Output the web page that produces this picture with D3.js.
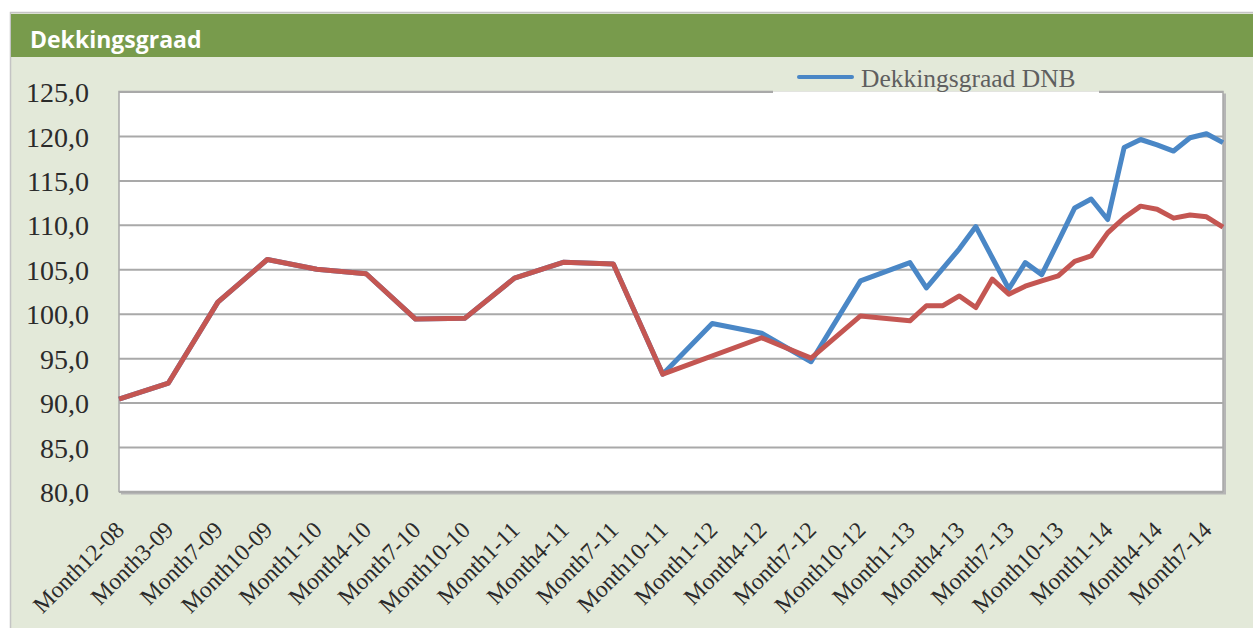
<!DOCTYPE html>
<html>
<head>
<meta charset="utf-8">
<script src="https://cdn.jsdelivr.net/npm/d3@7"></script>
<style>
  body { margin: 0; background: #fff; }
  .xlab text { font-family: "Liberation Serif", serif; font-size: 23.5px; fill: #2b2b2b; }
  .ylab text { font-family: "Liberation Serif", serif; font-size: 28px; fill: #2b2b2b; }
</style>
</head>
<body>
<div id="chart"></div>
<script>
// axis labels (category ticks)
var tickLabels = ["Month12-08","Month3-09","Month7-09","Month10-09","Month1-10","Month4-10",
  "Month7-10","Month10-10","Month1-11","Month4-11","Month7-11","Month10-11","Month1-12",
  "Month4-12","Month7-12","Month10-12","Month1-13","Month4-13","Month7-13","Month10-13",
  "Month1-14","Month4-14","Month7-14"];
var yTicks = [80, 85, 90, 95, 100, 105, 110, 115, 120, 125];

// blue series: Dekkingsgraad DNB
var dnbCats = ["Month12-08","Month3-09","Month7-09","Month10-09","Month1-10","Month4-10",
  "Month7-10","Month10-10","Month1-11","Month4-11","Month7-11","Month10-11","Month1-12",
  "Month4-12","Month7-12","Month10-12","Month1-13","Month2-13","Month3-13","Month4-13",
  "Month5-13","Month6-13","Month7-13","Month8-13","Month9-13","Month10-13","Month11-13",
  "Month12-13","Month1-14","Month2-14","Month3-14","Month4-14","Month5-14","Month6-14",
  "Month7-14","Month8-14"];
var dnbVals = [90.4, 92.2, 101.3, 106.1, 105.0, 104.5, 99.4, 99.5, 104.0, 105.8, 105.6, 93.2, 98.9,
  97.8, 94.6, 103.7, 105.75, 102.9, 105.1, 107.3, 109.8, 106.3, 102.8, 105.75, 104.4, 108.1, 111.9,
  112.9, 110.6, 118.7, 119.6, 119.0, 118.3, 119.8, 120.25, 119.25];

// red series (not in legend)
var fondsCats = ["Month12-08","Month3-09","Month7-09","Month10-09","Month1-10","Month4-10",
  "Month7-10","Month10-10","Month1-11","Month4-11","Month7-11","Month10-11",
  "Month4-12","Month7-12","Month10-12","Month1-13","Month2-13","Month3-13","Month4-13",
  "Month5-13","Month6-13","Month7-13","Month8-13","Month9-13","Month10-13","Month11-13",
  "Month12-13","Month1-14","Month2-14","Month3-14","Month4-14","Month5-14","Month6-14",
  "Month7-14","Month8-14"];
var fondsVals = [90.4, 92.2, 101.3, 106.1, 105.0, 104.5, 99.4, 99.5, 104.0, 105.8, 105.6, 93.2,
  97.3, 95.0, 99.75, 99.2, 100.9, 100.9, 102.0, 100.7, 103.9, 102.2, 103.1, 103.7, 104.25, 105.9,
  106.5, 109.1, 110.8, 112.1, 111.75, 110.75, 111.1, 110.9, 109.75];

var W = 1253, H = 628;
var plot = { left: 119, top: 91.5, right: 1223, bottom: 491.5 };

// month number from "MonthM-YY"
function monthNum(c) {
  var m = c.match(/Month(\d+)-(\d+)/);
  return (+m[2]) * 12 + (+m[1]);
}
// each tick label spans 3 slots; monthly points sit between ticks
function slot(c) {
  var i = tickLabels.indexOf(c);
  if (i >= 0) return i * 3;
  var mc = monthNum(c), best = 0;
  tickLabels.forEach(function(t, j) { if (monthNum(t) <= mc) best = j; });
  return best * 3 + (mc - monthNum(tickLabels[best]));
}

var dnb = dnbCats.map(function(c, i) { return { s: slot(c), v: dnbVals[i] }; });
var fonds = fondsCats.map(function(c, i) { return { s: slot(c), v: fondsVals[i] }; });

var svg = d3.select("#chart").append("svg")
  .attr("width", W).attr("height", H);

svg.append("rect").attr("width", W).attr("height", H).attr("fill", "#fff");

// frame + header
svg.append("rect")
  .attr("x", 10.5).attr("y", 12.5).attr("width", W).attr("height", H)
  .attr("fill", "#e3e9d9").attr("stroke", "#c4c4c4").attr("stroke-width", 1.5);
svg.append("rect")
  .attr("x", 11).attr("y", 14).attr("width", W).attr("height", 43)
  .attr("fill", "#789b4c");
svg.append("text")
  .attr("x", 30).attr("y", 48)
  .attr("font-family", "Open Sans, sans-serif").attr("font-weight", "bold")
  .attr("font-size", 23).attr("fill", "#fff")
  .text("Dekkingsgraad");

var x = d3.scaleLinear()
  .domain([0, d3.max(dnb.concat(fonds), function(d) { return d.s; })])
  .range([plot.left, plot.right]);
var y = d3.scaleLinear()
  .domain([d3.min(yTicks), d3.max(yTicks)])
  .range([plot.bottom, plot.top]);

// plot area with shadow on right/bottom
svg.append("rect")
  .attr("x", plot.left + 2).attr("y", plot.top + 2)
  .attr("width", plot.right - plot.left + 1).attr("height", plot.bottom - plot.top + 1)
  .attr("fill", "#b5b5b5");
svg.append("rect")
  .attr("x", plot.left).attr("y", plot.top)
  .attr("width", plot.right - plot.left).attr("height", plot.bottom - plot.top)
  .attr("fill", "#fff").attr("stroke", "#a8a8a8").attr("stroke-width", 1.5);

// gridlines
svg.append("g")
  .attr("transform", "translate(" + plot.left + ",0)")
  .call(d3.axisLeft(y).tickValues(yTicks).tickSize(-(plot.right - plot.left)).tickFormat(""))
  .call(function(g) {
    g.select(".domain").remove();
    g.selectAll("line").attr("stroke", "#a9a9a9").attr("stroke-width", 2);
  });

// y labels
svg.append("g")
  .attr("class", "ylab")
  .attr("transform", "translate(" + (plot.left - 27) + ",0)")
  .call(d3.axisLeft(y).tickValues(yTicks).tickSize(0)
    .tickFormat(function(d) { return d.toFixed(1).replace(".", ","); }))
  .call(function(g) {
    g.select(".domain").remove();
    g.selectAll("text").attr("font-family", null).attr("font-size", null).attr("dy", "0.36em");
  });

// x labels rotated
svg.append("g")
  .attr("class", "xlab")
  .attr("transform", "translate(0," + plot.bottom + ")")
  .call(d3.axisBottom(x).tickValues(tickLabels.map(slot)).tickSize(0)
    .tickFormat(function(d) { return tickLabels[d / 3]; }))
  .call(function(g) {
    g.select(".domain").remove();
    g.selectAll("text")
      .attr("font-family", null).attr("font-size", null)
      .attr("text-anchor", "end")
      .attr("y", 0).attr("dy", 0)
      .attr("transform", "translate(6,40) rotate(-45)");
  });

var line = d3.line()
  .x(function(d) { return x(d.s); })
  .y(function(d) { return y(d.v); });

svg.append("path").datum(dnb)
  .attr("d", line).attr("fill", "none")
  .attr("stroke", "#4a87c6").attr("stroke-width", 5).attr("stroke-linejoin", "round");
svg.append("path").datum(fonds)
  .attr("d", line).attr("fill", "none")
  .attr("stroke", "#c45652").attr("stroke-width", 5).attr("stroke-linejoin", "round");

// legend box hides the top border of the plot
var lg = svg.append("g");
lg.append("rect")
  .attr("x", 773).attr("y", 62).attr("width", 326).attr("height", 29.5)
  .attr("fill", "#e3e9d9");
lg.append("rect")
  .attr("x", 773).attr("y", 91.5).attr("width", 326).attr("height", 2)
  .attr("fill", "#fff");
lg.append("line")
  .attr("x1", 799).attr("x2", 852).attr("y1", 77).attr("y2", 77)
  .attr("stroke", "#4a87c6").attr("stroke-width", 4).attr("stroke-linecap", "round");
lg.append("text")
  .attr("x", 861).attr("y", 87)
  .attr("font-family", "Liberation Serif, serif").attr("font-size", 25.5)
  .attr("fill", "#5f5f5f")
  .text("Dekkingsgraad DNB");
</script>
</body>
</html>
